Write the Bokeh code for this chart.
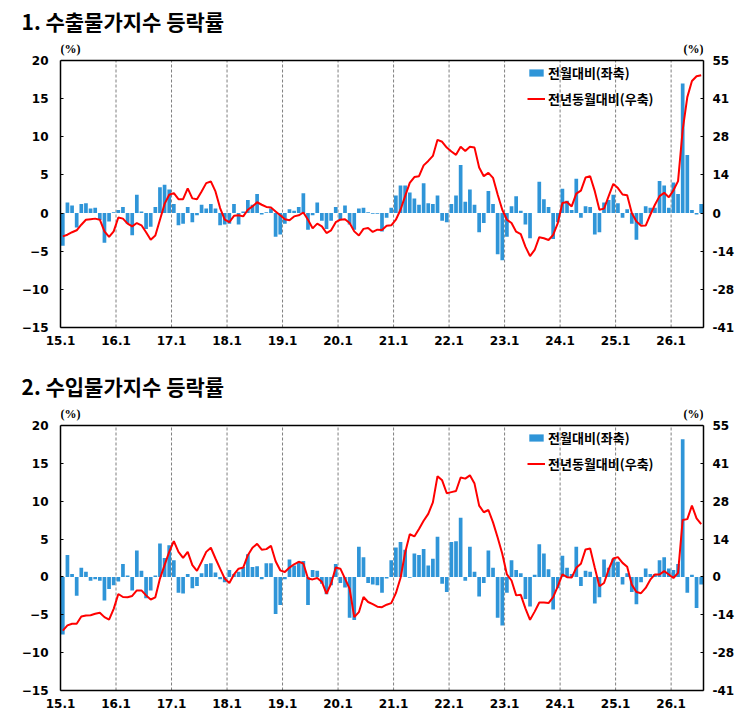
from bokeh.plotting import figure
from bokeh.models import (Range1d, LinearAxis, FixedTicker, ColumnDataSource,
                          Legend, LegendItem)
from bokeh.layouts import column
from bokeh.embed import file_html
from bokeh.resources import INLINE

# ---------------- data ----------------
year_ticks = [0, 12, 24, 36, 48, 60, 72, 84, 96, 108, 120, 132]
year_labels = ["15.1", "16.1", "17.1", "18.1", "19.1", "20.1",
               "21.1", "22.1", "23.1", "24.1", "25.1", "26.1"]
left_ticks = [-15, -10, -5, 0, 5, 10, 15, 20]
right_ticks = [-41.25, -27.5, -13.75, 0, 13.75, 27.5, 41.25, 55]
right_labels = ["-41", "-28", "-14", "0", "14", "28", "41", "55"]
unit_label = "(%)"

titles = ["1. 수출물가지수 등락률", "2. 수입물가지수 등락률"]
legend_labels = ["전월대비(좌축)", "전년동월대비(우축)"]

# 수출물가 전월대비 (%, left axis), 2015.1 ~ 2026.7
export_mom = [
    -4.3, 1.4, 1.0, -1.9, 1.2, 1.3, 0.6, 0.7, -0.9, -3.9, -1.1, 0.1,
    0.4, 0.8, -1.4, -2.9, 2.4, 0.2, -2.1, -1.8, 0.8, 3.4, 3.7, 3.1,
    1.2, -1.6, -1.4, 0.8, -1.2, -0.3, 1.1, 0.6, 1.2, 0.6, -1.6, -1.5,
    -1.4, 1.2, -1.5, 0.2, 1.7, 1.1, 2.5, -0.2, 0.1, 0.6, -3.1, -2.8,
    -1.4, 0.5, 0.3, 0.8, 2.6, -2.2, -0.3, 1.4, -1.0, -2.1, -1.0, 0.8,
    -0.9, 1.0, -1.5, -2.2, 0.6, 0.7, 0.1, -0.1, -0.1, -2.4, -0.6, 0.7,
    2.3, 3.6, 3.6, 2.7, 1.9, 1.1, 3.9, 1.3, 1.2, 2.3, -1.0, -1.2,
    1.2, 2.3, 6.3, 1.5, 3.1, 1.1, -2.5, -1.3, 2.9, 1.2, -5.4, -6.2,
    -3.1, 0.9, 2.2, 0.3, -1.5, -3.3, 0.0, 4.1, 1.8, 0.8, -3.4, -1.2,
    3.2, 1.6, 0.4, 4.5, -0.6, 0.9, 0.8, -2.8, -2.5, 1.4, 1.7, 2.4,
    1.3, -0.6, 0.5, -1.4, -3.5, -1.5, 0.9, 0.7, 0.7, 4.2, 3.6, 0.7,
    4.0, 2.5, 17.0, 7.6, 0.4, -0.2, 1.2,
]
# 수출물가 전년동월대비 (%, right axis)
export_yoy = [
    -8.4, -7.8, -6.9, -6.2, -4.2, -2.4, -2.2, -2.0, -2.4, -6.6, -8.6, -6.6,
    -1.6, -2.0, -3.8, -4.8, -3.6, -4.4, -6.9, -9.6, -8.1, -2.4, 3.3, 6.6,
    7.2, 5.0, 5.0, 8.9, 5.3, 5.0, 7.8, 10.8, 11.4, 7.8, 1.8, -2.4,
    -3.3, -1.0, -0.8, -1.2, 1.2, 2.4, 3.9, 3.0, 2.2, 2.0, 0.6, -0.8,
    -2.2, -2.6, -1.2, -0.8, 0.2, -2.4, -5.5, -3.8, -4.8, -7.2, -6.2, -3.3,
    -2.4, -2.2, -3.6, -6.6, -8.1, -5.7, -5.4, -6.8, -6.0, -6.1, -4.6, -4.4,
    -2.4, 1.2, 6.1, 10.9, 13.0, 13.3, 17.2, 18.8, 20.6, 26.4, 25.7, 23.6,
    22.2, 21.0, 23.9, 22.4, 23.9, 23.6, 16.4, 13.3, 14.5, 12.7, 6.7, 1.2,
    -2.4, -3.6, -6.7, -7.6, -12.1, -15.5, -13.3, -8.7, -9.1, -9.7, -7.9, -3.6,
    3.6, 4.0, 2.4, 7.0, 8.1, 12.8, 13.3, 7.9, 1.2, 1.6, 6.1, 10.5,
    9.0, 6.7, 6.4, 0.0, -3.0, -4.6, -4.5, -0.6, 3.0, 6.1, 7.3, 5.7,
    8.2, 11.5, 30.0, 41.8, 47.6, 49.3, 49.7,
]
# 수입물가 전월대비 (%, left axis)
import_mom = [
    -7.6, 2.9, 0.4, -2.5, 1.2, 0.7, -0.5, -0.3, -0.5, -3.1, -1.6, -1.1,
    -0.6, 1.7, 0.2, -1.8, 3.5, 0.8, -2.8, -1.8, 0.2, 4.4, 2.5, 4.2,
    2.2, -2.1, -2.2, 0.4, -1.5, -1.2, 0.5, 1.7, 1.8, 0.6, -0.3, -0.7,
    0.9, 0.4, 0.7, 1.3, 3.0, 1.3, 1.4, -0.3, 1.8, 1.8, -4.9, -3.7,
    -0.3, 2.3, 1.5, 2.0, 2.1, -3.7, 0.9, 0.8, -0.9, -2.3, -1.1, 1.7,
    -0.8, -1.4, -5.4, -5.7, 4.0, 2.6, -0.8, -1.0, -1.1, -2.1, -0.2, 2.2,
    3.9, 4.6, 3.6, -0.1, 3.1, 2.9, 3.7, 1.5, 2.4, 5.3, -0.9, -2.0,
    4.6, 4.7, 7.8, -0.5, 4.0, 0.7, -2.6, -0.8, 3.5, 1.2, -5.4, -6.4,
    -2.1, 2.2, 0.9, 0.5, -2.9, -3.9, 0.3, 4.3, 3.1, 1.0, -4.3, -1.5,
    2.8, 1.2, 0.4, 4.0, -1.2, 0.8, 0.7, -3.5, -2.7, 2.3, 1.2, 2.4,
    2.0, -1.0, 0.5, -2.0, -3.6, -0.7, 1.1, 0.4, 0.4, 2.2, 2.6, 1.1,
    0.9, 1.7, 18.2, -2.1, 0.3, -4.1, -1.0,
]
# 수입물가 전년동월대비 (%, right axis)
import_yoy = [
    -19.5, -17.6, -17.0, -17.0, -14.4, -14.0, -13.9, -13.4, -13.0, -14.6, -15.5, -11.6,
    -6.2, -7.3, -7.4, -6.9, -4.9, -4.9, -6.7, -8.2, -7.4, -0.6, 4.3, 9.1,
    13.0, 9.1, 6.9, 9.1, 4.3, 2.2, 5.5, 9.1, 10.6, 6.7, 3.0, -0.6,
    -2.2, 0.9, 3.0, 3.4, 7.9, 10.6, 12.0, 9.9, 10.1, 11.3, 5.7, 2.4,
    1.8, 3.4, 4.6, 5.5, 4.9, -0.6, -0.9, -0.4, -1.8, -6.1, -2.4, 3.4,
    3.0, -0.6, -4.3, -14.6, -12.8, -7.3, -9.1, -9.9, -10.8, -11.0, -10.1, -9.5,
    -5.9, -0.4, 8.8, 15.5, 14.7, 17.4, 20.4, 22.9, 27.1, 36.6, 35.1, 30.4,
    30.8, 31.2, 36.1, 35.7, 36.9, 33.9, 25.9, 23.5, 24.3, 19.8, 14.3, 8.4,
    0.9, -1.3, -6.7, -6.5, -11.4, -15.6, -12.6, -9.3, -9.3, -9.5, -7.3, -3.4,
    0.9, -0.1, -0.2, 3.3, 4.8, 10.0, 10.3, 3.3, -3.4, -2.2, 2.7, 6.7,
    7.2, 5.1, 3.7, -2.8, -5.5, -5.9, -4.0, -1.0, 0.9, 0.9, 2.1, 0.9,
    -0.4, 1.5, 20.7, 21.0, 25.9, 21.3, 19.2,
]

KR = "Noto Sans CJK KR"
NUM = "DejaVu Sans"
BAR = "#2F95D8"
RED = "#FF0000"
RIGHT_SCALE = right_ticks[-1] / left_ticks[-1]
TOP_BORDER = 42


def make_panel(title, mom, yoy, box_h, border_bottom, head_px):
    n = len(mom)
    ymin, ymax = left_ticks[0], left_ticks[-1]
    frame_h = box_h + head_px          # free space above the box for "(%)"
    ytop = ymax + head_px * (ymax - ymin) / box_h
    xs = [i + 0.5 for i in range(n)]
    src = ColumnDataSource(dict(x=xs, mom=mom, yoy=yoy))
    height = TOP_BORDER + frame_h + border_bottom
    p = figure(width=749, height=height, x_range=Range1d(0, n),
               y_range=Range1d(ymin, ytop), output_backend="svg",
               toolbar_location=None, min_border_left=60, min_border_right=46,
               min_border_top=TOP_BORDER, min_border_bottom=border_bottom)
    p.extra_y_ranges = {"right": Range1d(ymin * RIGHT_SCALE, ytop * RIGHT_SCALE)}

    p.title.text = title
    p.title.text_font = KR
    p.title.text_font_size = "21px"
    p.title.text_font_style = "bold"
    p.title.text_color = "black"
    p.title.align = "left"
    p.title.vertical_align = "top"
    p.title.offset = -39

    p.background_fill_color = "white"
    p.border_fill_color = "white"
    p.outline_line_color = None
    p.xgrid.grid_line_color = None
    p.ygrid.grid_line_color = None

    # dashed year separators inside the box
    sep = year_ticks[1:]
    p.segment(x0=sep, x1=sep, y0=[ymin] * len(sep), y1=[ymax] * len(sep),
              line_color="#7f7f7f", line_dash="3 2", line_width=1)

    bars = p.vbar(x="x", top="mom", bottom=0, width=0.8, source=src,
                  fill_color=BAR, line_color=None)
    line = p.line(x="x", y="yoy", source=src, y_range_name="right",
                  line_color=RED, line_width=2)

    # top edge of the box
    p.segment(x0=[0], x1=[n], y0=[ymax], y1=[ymax], line_color="black",
              line_width=1.5)

    xa = p.xaxis[0]
    xa.ticker = FixedTicker(ticks=year_ticks)
    xa.major_label_overrides = {t: l for t, l in zip(year_ticks, year_labels)}
    xa.major_tick_in = 0
    xa.major_tick_out = 0
    xa.minor_tick_in = 0
    xa.minor_tick_out = 0
    xa.major_label_standoff = 8

    ya = p.yaxis[0]
    ya.ticker = FixedTicker(ticks=left_ticks)
    ya.bounds = (ymin, ymax)
    ya.major_tick_in = 3
    ya.major_tick_out = 0
    ya.minor_tick_in = 0
    ya.minor_tick_out = 0
    ya.major_label_standoff = 12

    ra = LinearAxis(y_range_name="right")
    ra.ticker = FixedTicker(ticks=right_ticks)
    ra.bounds = (right_ticks[0], right_ticks[-1])
    ra.major_label_overrides = {t: l for t, l in zip(right_ticks, right_labels)}
    ra.major_tick_in = 3
    ra.major_tick_out = 0
    ra.minor_tick_in = 0
    ra.minor_tick_out = 0
    ra.major_label_standoff = 9
    p.add_layout(ra, "right")

    for ax in (xa, ya, ra):
        ax.axis_line_color = "black"
        ax.axis_line_width = 1.5
        ax.major_tick_line_color = "black"
        ax.major_label_text_font = NUM
        ax.major_label_text_font_style = "bold"
        ax.major_label_text_font_size = "12px"
        ax.major_label_text_color = "black"

    # (%) unit labels above the box
    p.text(x=[0, n], y=[ymax, ymax], text=[unit_label, unit_label],
           text_align=["left", "right"], text_baseline="bottom",
           y_offset=-5, text_font=NUM, text_font_size="12px",
           text_font_style="bold", text_color="black")

    legend = Legend(items=[LegendItem(label=legend_labels[0], renderers=[bars]),
                           LegendItem(label=legend_labels[1], renderers=[line])],
                    location=(467, frame_h - head_px - 9 - 39),
                    orientation="vertical",
                    padding=0, spacing=7, margin=0,
                    glyph_width=18, glyph_height=9, label_height=16,
                    label_standoff=3, border_line_color=None,
                    background_fill_alpha=0,
                    label_text_font=KR, label_text_font_size="13px",
                    label_text_font_style="bold", label_text_color="black")
    p.add_layout(legend)
    return p


p1 = make_panel(titles[0], export_mom, export_yoy, 267, 38, 18)
p2 = make_panel(titles[1], import_mom, import_yoy, 265, 25, 18)
layout = column(p1, p2, spacing=0)

open("out.html", "w").write(file_html(layout, INLINE))
